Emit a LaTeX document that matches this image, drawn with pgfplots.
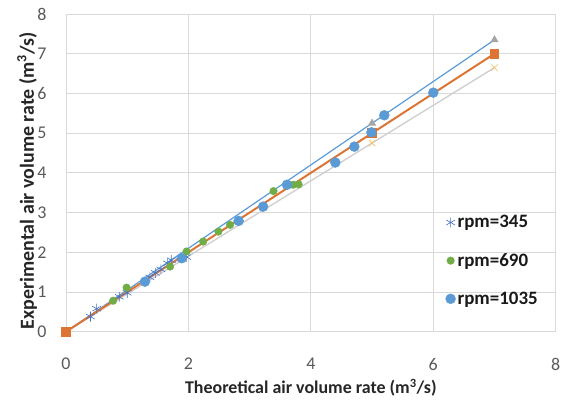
\documentclass[border=0pt]{standalone}
\usepackage{pgfplots}
\pgfplotsset{compat=1.18}
\usepackage{fontspec}
\setmainfont{Carlito}

\definecolor{xlblue}{HTML}{5B9BD5}
\definecolor{xlorange}{HTML}{DD7433}
\definecolor{xlgreen}{HTML}{70AD47}
\definecolor{xltri}{HTML}{A5A5A5}
\definecolor{xllight}{HTML}{D0D0D0}
\definecolor{xlyellow}{HTML}{F2C46D}
\definecolor{xldark}{HTML}{4472C4}
\definecolor{gridgray}{HTML}{D9D9D9}
\definecolor{tickgray}{HTML}{595959}

\begin{document}
\begin{tikzpicture}
\begin{axis}[
    scale only axis,
    width=489.7bp, height=317.7bp,
    xmin=0, xmax=8, ymin=0, ymax=8,
    xtick={0,2,4,6,8},
    ytick={0,1,2,3,4,5,6,7,8},
    grid=major,
    major grid style={color=gridgray, line width=0.8pt},
    axis line style={color=gridgray, line width=0.8pt},
    tick style={draw=none},
    /pgf/number format/assume math mode=true,
    ticklabel style={font=\fontsize{18}{20}\selectfont, text=tickgray},
    xticklabel style={yshift=-23bp},
    yticklabel style={xshift=-16bp},
    xlabel={\textbf{Theoretical air volume rate (m\textsuperscript{3}/s)}},
    ylabel={\textbf{Experimental air volume rate (m\textsuperscript{3}/s)}},
    label style={text=black!85},
    xlabel style={font=\fontsize{18}{20}\selectfont,
        at={(axis description cs:0.5,0)}, anchor=center, yshift=-56bp},
    ylabel style={font=\fontsize{20}{22}\selectfont,
        at={(axis description cs:0,0.475)}, anchor=center, yshift=39bp},
    clip=false,
    legend style={at={(axis cs:6.15,3.03)}, anchor=north west, draw=none,
        fill=none, font=\bfseries\fontsize{19}{21}\selectfont,
        row sep=20bp, text=black!90},
    legend cell align=left,
]
% reference lines
\addplot[forget plot, color=xlblue, line width=1.2pt, mark=triangle*,
    mark size=3.5pt, mark options={fill=xltri, draw=xltri}]
    coordinates {(0,0)(5,5.25)(7,7.35)};
\addplot[forget plot, color=xllight, line width=1.4pt, mark=x,
    mark size=4.5pt, mark options={draw=xlyellow, line width=0.8pt}]
    coordinates {(0,0)(5,4.75)(7,6.65)};
\addplot[forget plot, color=xlorange, line width=2pt, mark=square*,
    mark size=4pt, mark options={fill=xlorange, draw=xlorange}]
    coordinates {(0,0)(5,5)(7,7.0)};
% measurements
\addplot[only marks, mark=asterisk, mark size=5pt, color=xldark,
    mark options={line width=0.6pt}]
    coordinates {(0.40,0.38)(0.50,0.58)(0.87,0.88)(1.00,0.98)(1.37,1.37)
    (1.46,1.48)(1.55,1.57)(1.66,1.72)(1.72,1.80)(1.97,1.88)};
\addlegendentry{rpm=345}
\addplot[only marks, mark=*, mark size=3.8pt, color=xlgreen]
    coordinates {(0.77,0.78)(0.99,1.11)(1.70,1.64)(1.97,2.02)(2.24,2.27)
    (2.49,2.52)(2.68,2.69)(3.39,3.54)(3.71,3.70)(3.80,3.71)};
\addlegendentry{rpm=690}
\addplot[only marks, mark=*, mark size=5pt, color=xlblue]
    coordinates {(1.29,1.26)(1.89,1.85)(2.82,2.79)(3.22,3.15)(3.61,3.70)
    (4.40,4.26)(4.71,4.66)(4.99,5.02)(5.20,5.45)(6.00,6.02)};
\addlegendentry{rpm=1035}
\end{axis}
\pgfresetboundingbox
\path ([shift={(-66bp,-69.3bp)}]current axis.south west)
    rectangle ([shift={(15.3bp,14bp)}]current axis.north east);
\end{tikzpicture}
\end{document}
